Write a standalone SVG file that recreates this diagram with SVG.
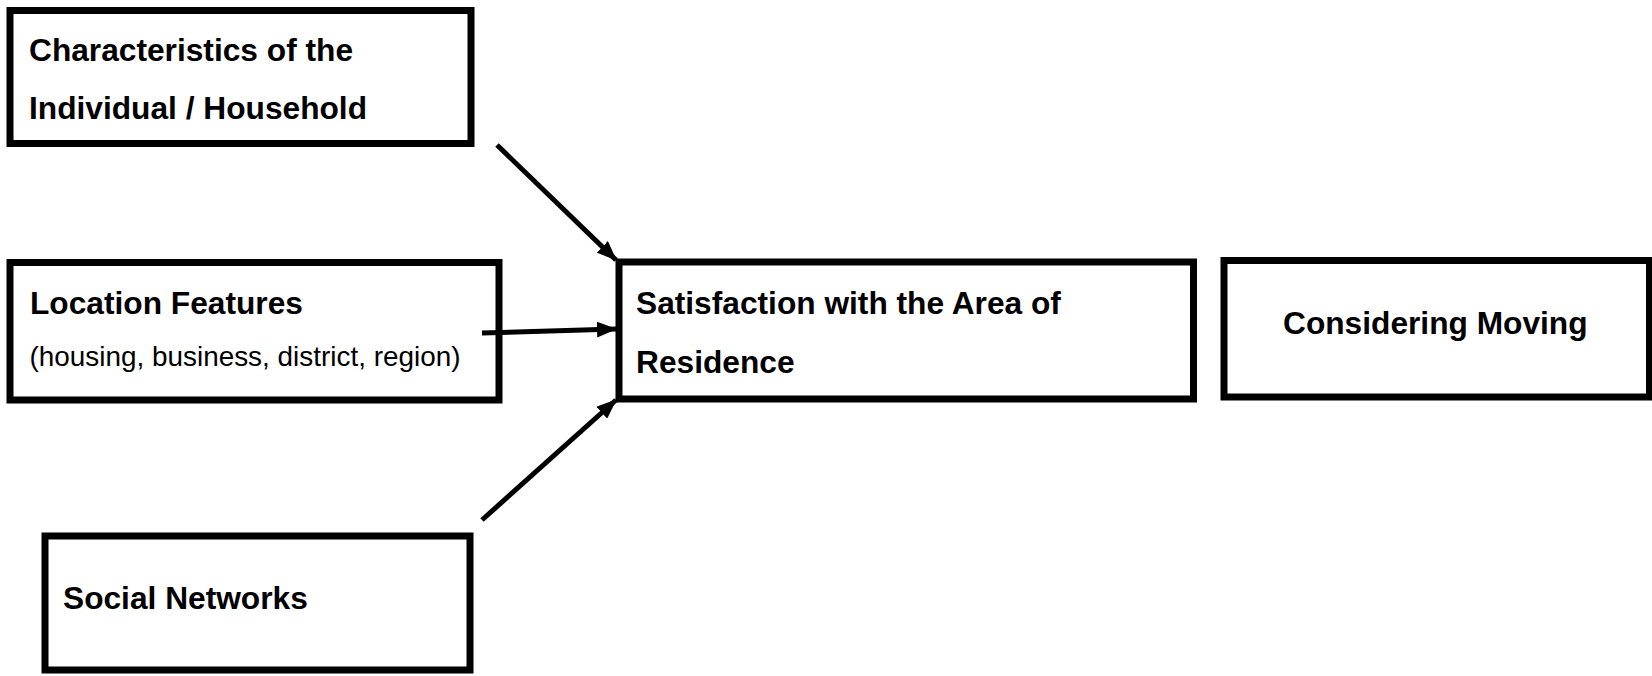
<svg xmlns="http://www.w3.org/2000/svg" width="1652" height="676" viewBox="0 0 1652 676">
<style>
.box{fill:#fff;stroke:#000;stroke-width:7}
.t{font-family:"Liberation Sans",Arial,sans-serif;font-weight:bold;font-size:31.7px;fill:#000}
.s{font-family:"Liberation Sans",Arial,sans-serif;font-weight:normal;font-size:27.9px;fill:#000}
.c{stroke:#000;stroke-width:5;fill:none}
</style>
<defs>
<marker id="ah" markerUnits="userSpaceOnUse" markerWidth="20" markerHeight="16" refX="19" refY="8" orient="auto">
<path d="M0,0 L20,8 L0,16 Z" fill="#000"/>
</marker>
</defs>
<rect width="1652" height="676" fill="#fff"/>
<g id="node-characteristics">
<rect class="box" x="10" y="10.5" width="461" height="133"/>
<text class="t" x="29" y="61">Characteristics of the</text>
<text class="t" x="29" y="119">Individual / Household</text>
</g>
<g id="node-location">
<rect class="box" x="10" y="262.5" width="489" height="137.5"/>
<text class="t" x="30" y="314">Location Features</text>
<text class="s" x="29.5" y="366">(housing, business, district, region)</text>
</g>
<g id="node-satisfaction">
<rect class="box" x="619" y="262" width="574.5" height="137"/>
<text class="t" x="636" y="314">Satisfaction with the Area of</text>
<text class="t" x="636" y="373">Residence</text>
</g>
<g id="node-moving">
<rect class="box" x="1224" y="260.5" width="425.5" height="136.5"/>
<text class="t" x="1283" y="334">Considering Moving</text>
</g>
<g id="node-social">
<rect class="box" x="45" y="536" width="425" height="134"/>
<text class="t" x="63" y="609">Social Networks</text>
</g>
<g id="connectors">
<line class="c" x1="497" y1="145" x2="616" y2="260" marker-end="url(#ah)"/>
<line class="c" x1="482" y1="333" x2="616" y2="329" marker-end="url(#ah)"/>
<line class="c" x1="482" y1="520" x2="616" y2="400" marker-end="url(#ah)"/>
</g>
</svg>
